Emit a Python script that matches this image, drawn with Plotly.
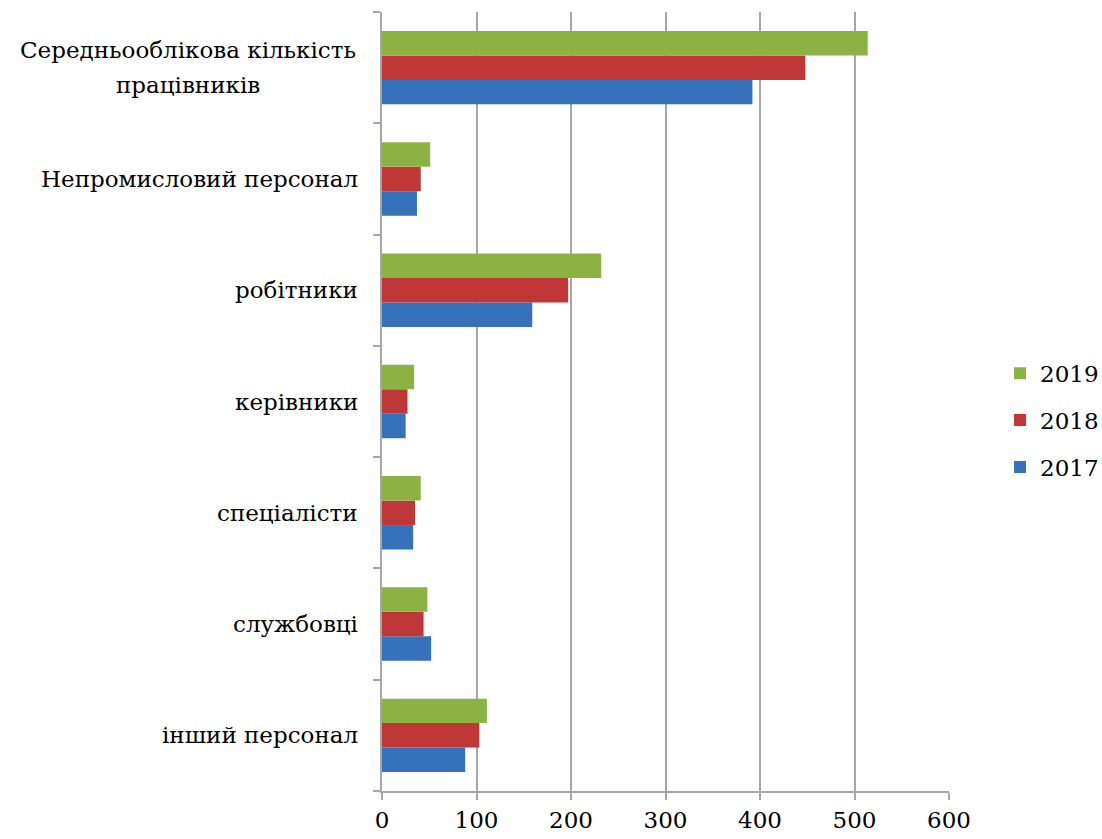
import plotly.graph_objects as go

# Categories, listed top to bottom as they appear on the chart
categories = [
    "Середньооблікова кількість<br>працівників",
    "Непромисловий персонал",
    "робітники",
    "керівники",
    "спеціалісти",
    "службовці",
    "інший персонал",
]

values_2017 = [392, 37, 159, 25, 33, 52, 88]
values_2018 = [448, 41, 197, 27, 35, 44, 103]
values_2019 = [514, 51, 232, 34, 41, 48, 111]

x_ticks = [0, 100, 200, 300, 400, 500, 600]

series = [
    ("2017", values_2017, "#3572BB", 3),
    ("2018", values_2018, "#BF3737", 2),
    ("2019", values_2019, "#8DB244", 1),
]

FONT = "DejaVu Serif"
GRID = "#A6A6A6"
LINE_STEP = 35  # vertical spacing between lines of a wrapped category label

fig = go.Figure()
for name, vals, color, rank in series:
    fig.add_trace(go.Bar(
        name=name,
        legendgroup=name,
        legendrank=rank,
        x=vals,
        y=categories,
        orientation="h",
        marker=dict(color=color, line=dict(width=0)),
    ))

# Category labels: each line is a centred annotation right of the label column
for cat in categories:
    lines = cat.split("<br>")
    widest = max(len(s) for s in lines)
    for i, line in enumerate(lines):
        fig.add_annotation(
            x=0, xref="paper", y=cat, yref="y",
            text=line, showarrow=False,
            xanchor="center" if len(lines) > 1 else "right",
            xshift=-22 - (widest * 6.6 if len(lines) > 1 else 0),
            yshift=((len(lines) - 1) / 2 - i) * LINE_STEP,
            font=dict(family=FONT, size=23, color="#000000"),
        )

fig.update_layout(
    width=1102, height=839,
    margin=dict(l=382, r=153, t=12, b=48, autoexpand=False),
    paper_bgcolor="white", plot_bgcolor="white",
    barmode="group", bargap=0.34, bargroupgap=0,
    font=dict(family=FONT, size=23, color="#000000"),
    legend=dict(
        traceorder="grouped",
        x=1.09, xanchor="left", y=0.476, yanchor="middle",
        font=dict(family=FONT, size=23),
        itemwidth=30, tracegroupgap=14,
        bgcolor="rgba(0,0,0,0)",
    ),
    xaxis=dict(
        range=[0, 600], tickvals=x_ticks, ticktext=[str(t) for t in x_ticks],
        showgrid=True, gridcolor=GRID, gridwidth=2,
        showline=True, linecolor=GRID, linewidth=2,
        ticks="outside", ticklen=7, tickcolor=GRID, tickwidth=2,
        tickfont=dict(family=FONT, size=23),
        zeroline=False,
    ),
    yaxis=dict(
        categoryorder="array", categoryarray=list(reversed(categories)),
        showticklabels=False,
        showgrid=False, showline=True, linecolor=GRID, linewidth=2,
        ticks="outside", tickson="boundaries", ticklen=7,
        tickcolor=GRID, tickwidth=2,
        zeroline=False,
    ),
)

fig.write_html("out.html")
